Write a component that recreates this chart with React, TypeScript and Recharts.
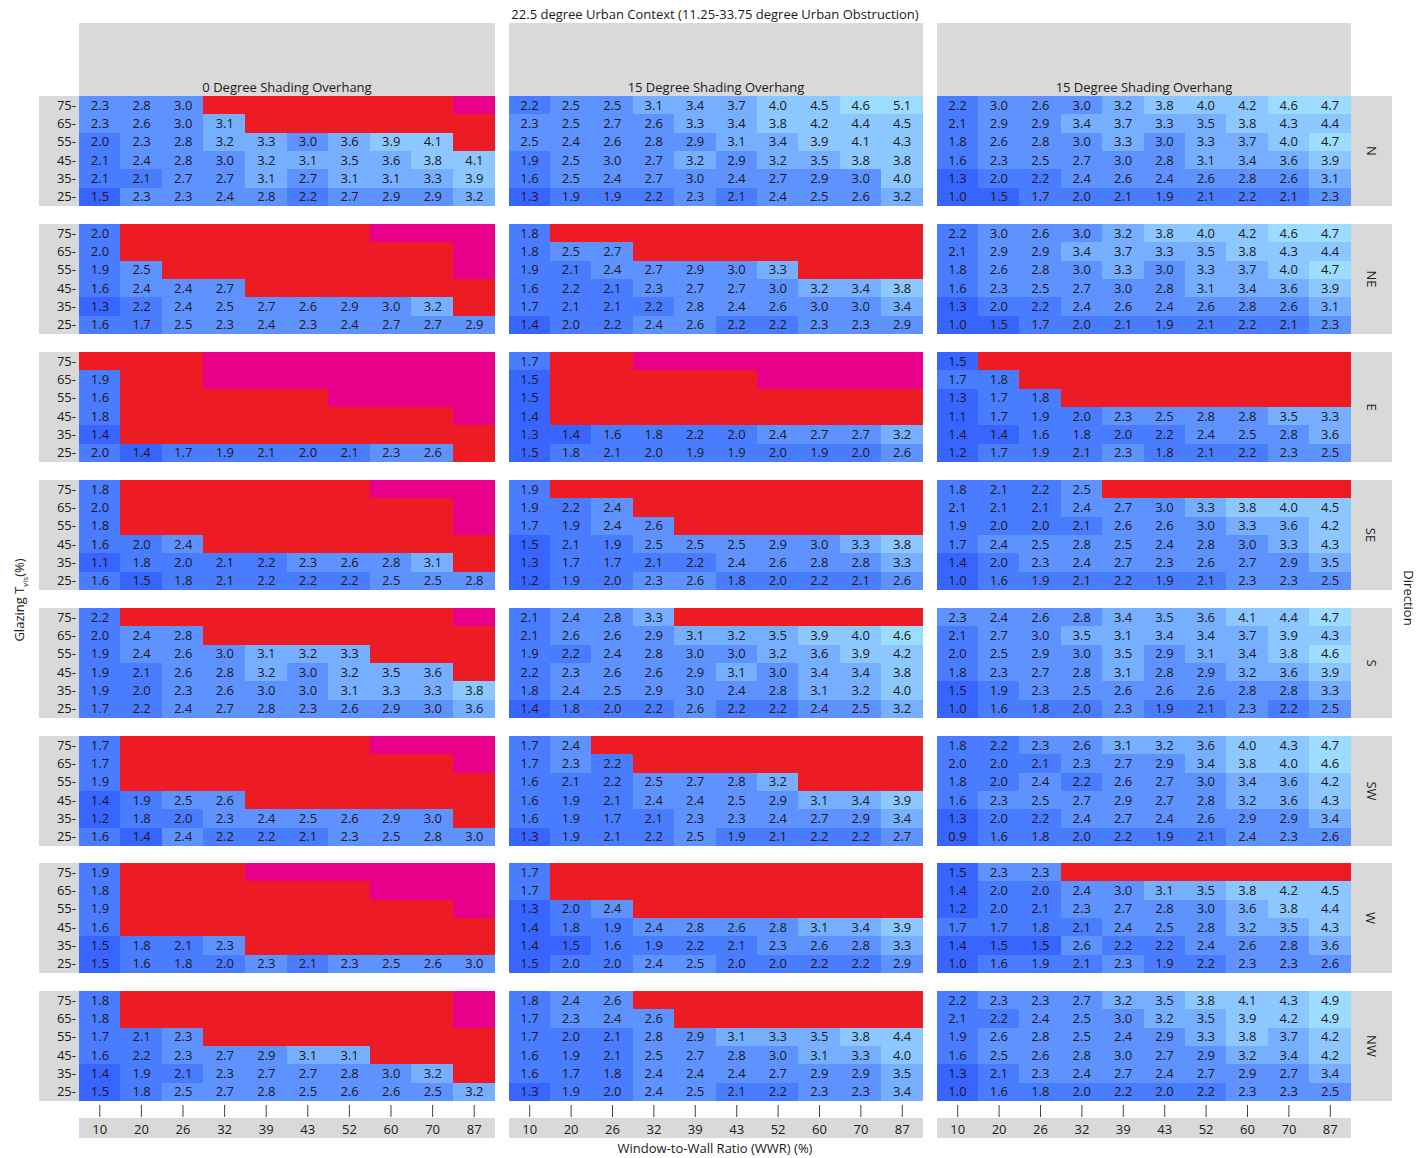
import React from "react";
import { BarChart, Bar, XAxis, YAxis, Cell, LabelList } from "recharts";

const wwrLabels = ["10", "20", "26", "32", "39", "43", "52", "60", "70", "87"];
// rows from top to bottom
const tvisLevels = [75, 65, 55, 45, 35, 25];
const directions = ["N", "NE", "E", "SE", "S", "SW", "W", "NW"];
const shadingTitles = [
  "0 Degree Shading Overhang",
  "15 Degree Shading Overhang",
  "15 Degree Shading Overhang",
];

// R = red cell, M = magenta cell (no value shown)
// 0 degree overhang
const nA = [
  "2.3 2.8 3.0 R R R R R R M",
  "2.3 2.6 3.0 3.1 R R R R R R",
  "2.0 2.3 2.8 3.2 3.3 3.0 3.6 3.9 4.1 R",
  "2.1 2.4 2.8 3.0 3.2 3.1 3.5 3.6 3.8 4.1",
  "2.1 2.1 2.7 2.7 3.1 2.7 3.1 3.1 3.3 3.9",
  "1.5 2.3 2.3 2.4 2.8 2.2 2.7 2.9 2.9 3.2",
];
const neA = [
  "2.0 R R R R R R M M M",
  "2.0 R R R R R R R R M",
  "1.9 2.5 R R R R R R R M",
  "1.6 2.4 2.4 2.7 R R R R R R",
  "1.3 2.2 2.4 2.5 2.7 2.6 2.9 3.0 3.2 R",
  "1.6 1.7 2.5 2.3 2.4 2.3 2.4 2.7 2.7 2.9",
];
const eA = [
  "R R R M M M M M M M",
  "1.9 R R M M M M M M M",
  "1.6 R R R R R M M M M",
  "1.8 R R R R R R R R M",
  "1.4 R R R R R R R R R",
  "2.0 1.4 1.7 1.9 2.1 2.0 2.1 2.3 2.6 R",
];
const seA = [
  "1.8 R R R R R R M M M",
  "2.0 R R R R R R R R M",
  "1.8 R R R R R R R R M",
  "1.6 2.0 2.4 R R R R R R R",
  "1.1 1.8 2.0 2.1 2.2 2.3 2.6 2.8 3.1 R",
  "1.6 1.5 1.8 2.1 2.2 2.2 2.2 2.5 2.5 2.8",
];
const sA = [
  "2.2 R R R R R R R R M",
  "2.0 2.4 2.8 R R R R R R R",
  "1.9 2.4 2.6 3.0 3.1 3.2 3.3 R R R",
  "1.9 2.1 2.6 2.8 3.2 3.0 3.2 3.5 3.6 R",
  "1.9 2.0 2.3 2.6 3.0 3.0 3.1 3.3 3.3 3.8",
  "1.7 2.2 2.4 2.7 2.8 2.3 2.6 2.9 3.0 3.6",
];
const swA = [
  "1.7 R R R R R R M M M",
  "1.7 R R R R R R R R M",
  "1.9 R R R R R R R R R",
  "1.4 1.9 2.5 2.6 R R R R R R",
  "1.2 1.8 2.0 2.3 2.4 2.5 2.6 2.9 3.0 R",
  "1.6 1.4 2.4 2.2 2.2 2.1 2.3 2.5 2.8 3.0",
];
const wA = [
  "1.9 R R R M M M M M M",
  "1.8 R R R R R R M M M",
  "1.9 R R R R R R R R M",
  "1.6 R R R R R R R R R",
  "1.5 1.8 2.1 2.3 R R R R R R",
  "1.5 1.6 1.8 2.0 2.3 2.1 2.3 2.5 2.6 3.0",
];
const nwA = [
  "1.8 R R R R R R R R M",
  "1.8 R R R R R R R R M",
  "1.7 2.1 2.3 R R R R R R R",
  "1.6 2.2 2.3 2.7 2.9 3.1 3.1 R R R",
  "1.4 1.9 2.1 2.3 2.7 2.7 2.8 3.0 3.2 R",
  "1.5 1.8 2.5 2.7 2.8 2.5 2.6 2.6 2.5 3.2",
];

// 15 degree overhang (middle column)
const nB = [
  "2.2 2.5 2.5 3.1 3.4 3.7 4.0 4.5 4.6 5.1",
  "2.3 2.5 2.7 2.6 3.3 3.4 3.8 4.2 4.4 4.5",
  "2.5 2.4 2.6 2.8 2.9 3.1 3.4 3.9 4.1 4.3",
  "1.9 2.5 3.0 2.7 3.2 2.9 3.2 3.5 3.8 3.8",
  "1.6 2.5 2.4 2.7 3.0 2.4 2.7 2.9 3.0 4.0",
  "1.3 1.9 1.9 2.2 2.3 2.1 2.4 2.5 2.6 3.2",
];
const neB = [
  "1.8 R R R R R R R R R",
  "1.8 2.5 2.7 R R R R R R R",
  "1.9 2.1 2.4 2.7 2.9 3.0 3.3 R R R",
  "1.6 2.2 2.1 2.3 2.7 2.7 3.0 3.2 3.4 3.8",
  "1.7 2.1 2.1 2.2 2.8 2.4 2.6 3.0 3.0 3.4",
  "1.4 2.0 2.2 2.4 2.6 2.2 2.2 2.3 2.3 2.9",
];
const eB = [
  "1.7 R R M M M M M M M",
  "1.5 R R R R R M M M M",
  "1.5 R R R R R R R R R",
  "1.4 R R R R R R R R R",
  "1.3 1.4 1.6 1.8 2.2 2.0 2.4 2.7 2.7 3.2",
  "1.5 1.8 2.1 2.0 1.9 1.9 2.0 1.9 2.0 2.6",
];
const seB = [
  "1.9 R R R R R R R R R",
  "1.9 2.2 2.4 R R R R R R R",
  "1.7 1.9 2.4 2.6 R R R R R R",
  "1.5 2.1 1.9 2.5 2.5 2.5 2.9 3.0 3.3 3.8",
  "1.3 1.7 1.7 2.1 2.2 2.4 2.6 2.8 2.8 3.3",
  "1.2 1.9 2.0 2.3 2.6 1.8 2.0 2.2 2.1 2.6",
];
const sB = [
  "2.1 2.4 2.8 3.3 R R R R R R",
  "2.1 2.6 2.6 2.9 3.1 3.2 3.5 3.9 4.0 4.6",
  "1.9 2.2 2.4 2.8 3.0 3.0 3.2 3.6 3.9 4.2",
  "2.2 2.3 2.6 2.6 2.9 3.1 3.0 3.4 3.4 3.8",
  "1.8 2.4 2.5 2.9 3.0 2.4 2.8 3.1 3.2 4.0",
  "1.4 1.8 2.0 2.2 2.6 2.2 2.2 2.4 2.5 3.2",
];
const swB = [
  "1.7 2.4 R R R R R R R R",
  "1.7 2.3 2.2 R R R R R R R",
  "1.6 2.1 2.2 2.5 2.7 2.8 3.2 R R R",
  "1.6 1.9 2.1 2.4 2.4 2.5 2.9 3.1 3.4 3.9",
  "1.6 1.9 1.7 2.1 2.3 2.3 2.4 2.7 2.9 3.4",
  "1.3 1.9 2.1 2.2 2.5 1.9 2.1 2.2 2.2 2.7",
];
const wB = [
  "1.7 R R R R R R R R R",
  "1.7 R R R R R R R R R",
  "1.3 2.0 2.4 R R R R R R R",
  "1.4 1.8 1.9 2.4 2.8 2.6 2.8 3.1 3.4 3.9",
  "1.4 1.5 1.6 1.9 2.2 2.1 2.3 2.6 2.8 3.3",
  "1.5 2.0 2.0 2.4 2.5 2.0 2.0 2.2 2.2 2.9",
];
const nwB = [
  "1.8 2.4 2.6 R R R R R R R",
  "1.7 2.3 2.4 2.6 R R R R R R",
  "1.7 2.0 2.1 2.8 2.9 3.1 3.3 3.5 3.8 4.4",
  "1.6 1.9 2.1 2.5 2.7 2.8 3.0 3.1 3.3 4.0",
  "1.6 1.7 1.8 2.4 2.4 2.4 2.7 2.9 2.9 3.5",
  "1.3 1.9 2.0 2.4 2.5 2.1 2.2 2.3 2.3 3.4",
];

// 15 degree overhang (right column)
const nC = [
  "2.2 3.0 2.6 3.0 3.2 3.8 4.0 4.2 4.6 4.7",
  "2.1 2.9 2.9 3.4 3.7 3.3 3.5 3.8 4.3 4.4",
  "1.8 2.6 2.8 3.0 3.3 3.0 3.3 3.7 4.0 4.7",
  "1.6 2.3 2.5 2.7 3.0 2.8 3.1 3.4 3.6 3.9",
  "1.3 2.0 2.2 2.4 2.6 2.4 2.6 2.8 2.6 3.1",
  "1.0 1.5 1.7 2.0 2.1 1.9 2.1 2.2 2.1 2.3",
];
const neC = [
  "2.2 3.0 2.6 3.0 3.2 3.8 4.0 4.2 4.6 4.7",
  "2.1 2.9 2.9 3.4 3.7 3.3 3.5 3.8 4.3 4.4",
  "1.8 2.6 2.8 3.0 3.3 3.0 3.3 3.7 4.0 4.7",
  "1.6 2.3 2.5 2.7 3.0 2.8 3.1 3.4 3.6 3.9",
  "1.3 2.0 2.2 2.4 2.6 2.4 2.6 2.8 2.6 3.1",
  "1.0 1.5 1.7 2.0 2.1 1.9 2.1 2.2 2.1 2.3",
];
const eC = [
  "1.5 R R R R R R R R R",
  "1.7 1.8 R R R R R R R R",
  "1.3 1.7 1.8 R R R R R R R",
  "1.1 1.7 1.9 2.0 2.3 2.5 2.8 2.8 3.5 3.3",
  "1.4 1.4 1.6 1.8 2.0 2.2 2.4 2.5 2.8 3.6",
  "1.2 1.7 1.9 2.1 2.3 1.8 2.1 2.2 2.3 2.5",
];
const seC = [
  "1.8 2.1 2.2 2.5 R R R R R R",
  "2.1 2.1 2.1 2.4 2.7 3.0 3.3 3.8 4.0 4.5",
  "1.9 2.0 2.0 2.1 2.6 2.6 3.0 3.3 3.6 4.2",
  "1.7 2.4 2.5 2.8 2.5 2.4 2.8 3.0 3.3 4.3",
  "1.4 2.0 2.3 2.4 2.7 2.3 2.6 2.7 2.9 3.5",
  "1.0 1.6 1.9 2.1 2.2 1.9 2.1 2.3 2.3 2.5",
];
const sC = [
  "2.3 2.4 2.6 2.8 3.4 3.5 3.6 4.1 4.4 4.7",
  "2.1 2.7 3.0 3.5 3.1 3.4 3.4 3.7 3.9 4.3",
  "2.0 2.5 2.9 3.0 3.5 2.9 3.1 3.4 3.8 4.6",
  "1.8 2.3 2.7 2.8 3.1 2.8 2.9 3.2 3.6 3.9",
  "1.5 1.9 2.3 2.5 2.6 2.6 2.6 2.8 2.8 3.3",
  "1.0 1.6 1.8 2.0 2.3 1.9 2.1 2.3 2.2 2.5",
];
const swC = [
  "1.8 2.2 2.3 2.6 3.1 3.2 3.6 4.0 4.3 4.7",
  "2.0 2.0 2.1 2.3 2.7 2.9 3.4 3.8 4.0 4.6",
  "1.8 2.0 2.4 2.2 2.6 2.7 3.0 3.4 3.6 4.2",
  "1.6 2.3 2.5 2.7 2.9 2.7 2.8 3.2 3.6 4.3",
  "1.3 2.0 2.2 2.4 2.7 2.4 2.6 2.9 2.9 3.4",
  "0.9 1.6 1.8 2.0 2.2 1.9 2.1 2.4 2.3 2.6",
];
const wC = [
  "1.5 2.3 2.3 R R R R R R R",
  "1.4 2.0 2.0 2.4 3.0 3.1 3.5 3.8 4.2 4.5",
  "1.2 2.0 2.1 2.3 2.7 2.8 3.0 3.6 3.8 4.4",
  "1.7 1.7 1.8 2.1 2.4 2.5 2.8 3.2 3.5 4.3",
  "1.4 1.5 1.5 2.6 2.2 2.2 2.4 2.6 2.8 3.6",
  "1.0 1.6 1.9 2.1 2.3 1.9 2.2 2.3 2.3 2.6",
];
const nwC = [
  "2.2 2.3 2.3 2.7 3.2 3.5 3.8 4.1 4.3 4.9",
  "2.1 2.2 2.4 2.5 3.0 3.2 3.5 3.9 4.2 4.9",
  "1.9 2.6 2.8 2.5 2.4 2.9 3.3 3.8 3.7 4.2",
  "1.6 2.5 2.6 2.8 3.0 2.7 2.9 3.2 3.4 4.2",
  "1.3 2.1 2.3 2.4 2.7 2.4 2.7 2.9 2.7 3.4",
  "1.0 1.6 1.8 2.0 2.2 2.0 2.2 2.3 2.3 2.5",
];

const grids = [
  [nA, nB, nC],
  [neA, neB, neC],
  [eA, eB, eC],
  [seA, seB, seC],
  [sA, sB, sC],
  [swA, swB, swC],
  [wA, wB, wC],
  [nwA, nwB, nwC],
];

const FONT = "'Open Sans', sans-serif";
const GREY = "#d9d9d9";
const TEXT = "#1a1a1a";
const FS = 13;

const COLS = [
  { plotLeft: 79, plotW: 416 },
  { plotLeft: 509, plotW: 414 },
  { plotLeft: 937, plotW: 414 },
];
const PANEL_TOP = 96;
const PANEL_STEP = 127.9;
const PANEL_H = 110;
const YAXIS_W = 40;
const XAXIS_H = 40;

function cellColor(tok: string) {
  if (tok === "R") return "#ed1c24";
  if (tok === "M") return "#e8008a";
  const v = parseFloat(tok);
  if (v < 1.55) return "#3864ff";
  if (v < 2.25) return "#4a7cff";
  if (v < 3.05) return "#5e93ff";
  if (v < 3.75) return "#76afff";
  if (v < 4.55) return "#8cc8ff";
  return "#9cdcff";
}

function buildRows(grid: string[]) {
  const cells = grid.map((r) => r.trim().split(/\s+/));
  return wwrLabels.map((w, c) => {
    const row: Record<string, string | number> = { wwr: w };
    tvisLevels.forEach((t, r) => {
      const tok = cells[r][c];
      row["k" + t] = 1;
      row["v" + t] = tok;
      row["l" + t] = tok === "R" || tok === "M" ? "" : tok;
    });
    return row;
  });
}

// stretch a hair wider so bars with floored widths leave no seams
const CellRect = (p: any) => (
  <rect
    x={p.x - 0.5}
    y={p.y}
    width={p.width + 1}
    height={p.height}
    fill={p.fill}
    shapeRendering="crispEdges"
  />
);

const WwrTick = (p: any) => (
  <g>
    <line x1={p.x} x2={p.x} y1={p.y + 4} y2={p.y + 16} stroke="#444" strokeWidth={1} />
    <text x={p.x} y={p.y + 33} textAnchor="middle" fontSize={FS} fontFamily={FONT} fill={TEXT}>
      {p.payload.value}
    </text>
  </g>
);

function Panel({ grid, showY, showX, width }: { grid: string[]; showY: boolean; showX: boolean; width: number }) {
  const data = buildRows(grid);
  const bottomUp = [...tvisLevels].reverse();
  return (
    <BarChart
      width={width}
      height={PANEL_H + (showX ? XAXIS_H : 0)}
      data={data}
      margin={{ top: 0, right: 0, bottom: 0, left: 0 }}
      barCategoryGap={0}
      barGap={0}
    >
      <XAxis
        dataKey="wwr"
        hide={!showX}
        height={showX ? XAXIS_H : 0}
        axisLine={false}
        tickLine={false}
        tickSize={0}
        tickMargin={0}
        interval={0}
        tick={<WwrTick />}
      />
      <YAxis
        type="number"
        domain={[0, 6]}
        ticks={[0.5, 1.5, 2.5, 3.5, 4.5, 5.5]}
        interval={0}
        hide={!showY}
        width={YAXIS_W}
        axisLine={false}
        tickLine={false}
        tickSize={0}
        tickMargin={3}
        tickFormatter={(v: number) => `${25 + Math.round(v - 0.5) * 10}-`}
        tick={{ fontSize: FS, fontFamily: FONT, fill: TEXT }}
      />
      {bottomUp.map((t) => (
        <Bar key={t} dataKey={"k" + t} stackId="s" isAnimationActive={false} shape={<CellRect />}>
          {data.map((d, i) => (
            <Cell key={i} fill={cellColor(String(d["v" + t]))} />
          ))}
          <LabelList dataKey={"l" + t} position="center" fill={TEXT} fontSize={FS} fontFamily={FONT} />
        </Bar>
      ))}
    </BarChart>
  );
}

export default function App() {
  const lastTop = PANEL_TOP + (directions.length - 1) * PANEL_STEP;
  return (
    <div
      style={{
        position: "absolute",
        left: 0,
        top: 0,
        width: 1416,
        height: 1158,
        background: "#fff",
        fontFamily: FONT,
        color: TEXT,
      }}
    >
      <div style={{ position: "absolute", left: 0, width: 1430, top: 5, textAlign: "center", fontSize: FS }}>
        22.5 degree Urban Context (11.25-33.75 degree Urban Obstruction)
      </div>

      {COLS.map((c, ci) => (
        <div
          key={"h" + ci}
          style={{
            position: "absolute",
            left: c.plotLeft,
            top: 23,
            width: c.plotW,
            height: 73,
            background: GREY,
            display: "flex",
            alignItems: "flex-end",
            justifyContent: "center",
            fontSize: FS,
            lineHeight: "17px",
          }}
        >
          {shadingTitles[ci]}
        </div>
      ))}

      {COLS.map((c, ci) => (
        <div
          key={"xb" + ci}
          style={{
            position: "absolute",
            left: c.plotLeft,
            top: lastTop + PANEL_H + 17,
            width: c.plotW,
            height: 20,
            background: GREY,
          }}
        />
      ))}

      {directions.map((d, ri) => {
        const top = PANEL_TOP + ri * PANEL_STEP;
        return (
          <React.Fragment key={d}>
            <div style={{ position: "absolute", left: 39, top, width: 40, height: PANEL_H, background: GREY }} />
            <div
              style={{
                position: "absolute",
                left: 1351,
                top,
                width: 41,
                height: PANEL_H,
                background: GREY,
                display: "flex",
                alignItems: "center",
                justifyContent: "center",
              }}
            >
              <div style={{ transform: "rotate(90deg)", fontSize: FS, whiteSpace: "nowrap" }}>{d}</div>
            </div>
            {COLS.map((c, ci) => {
              const showY = ci === 0;
              const showX = ri === directions.length - 1;
              const left = showY ? c.plotLeft - YAXIS_W : c.plotLeft;
              return (
                <div key={ci} style={{ position: "absolute", left, top }}>
                  <Panel grid={grids[ri][ci]} showY={showY} showX={showX} width={c.plotW + (showY ? YAXIS_W : 0)} />
                </div>
              );
            })}
          </React.Fragment>
        );
      })}

      <div style={{ position: "absolute", left: 0, width: 1430, top: 1139, textAlign: "center", fontSize: FS }}>
        Window-to-Wall Ratio (WWR) (%)
      </div>

      <div
        style={{
          position: "absolute",
          left: 20,
          top: 600,
          transform: "translate(-50%, -50%) rotate(-90deg)",
          whiteSpace: "nowrap",
          fontSize: FS,
        }}
      >
        Glazing T<sub style={{ fontSize: 8 }}>vis</sub>(%)
      </div>

      <div
        style={{
          position: "absolute",
          left: 1409,
          top: 598,
          transform: "translate(-50%, -50%) rotate(90deg)",
          whiteSpace: "nowrap",
          fontSize: FS,
        }}
      >
        Direction
      </div>
    </div>
  );
}
